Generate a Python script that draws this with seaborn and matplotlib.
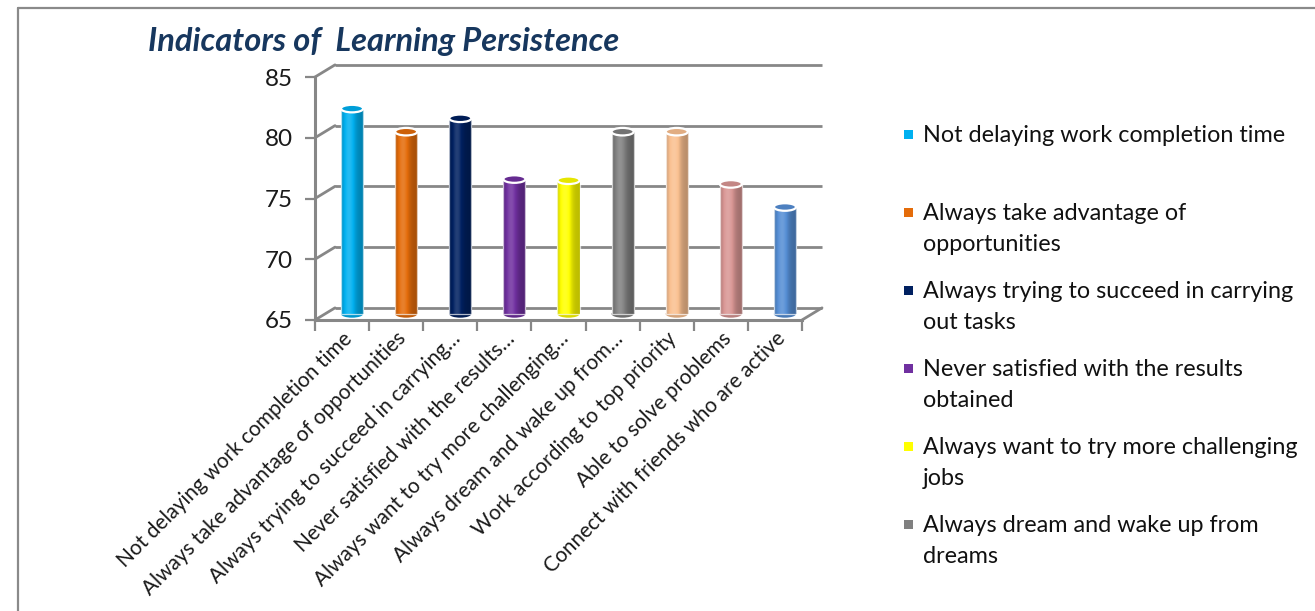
import numpy as np
import pandas as pd
import matplotlib
matplotlib.use("Agg")
import matplotlib.pyplot as plt
import seaborn as sns
from matplotlib.patches import Ellipse, Rectangle
from matplotlib.lines import Line2D
import matplotlib.colors as mcolors

# ---------------- data ----------------
categories = [
    "Not delaying work completion time",
    "Always take advantage of opportunities",
    "Always trying to succeed in carrying out tasks",
    "Never satisfied with the results obtained",
    "Always want to try more challenging jobs",
    "Always dream and wake up from dreams",
    "Work according to top priority",
    "Able to solve problems",
    "Connect with friends who are active",
]
values = [81.9, 80.0, 81.1, 76.1, 76.0, 80.0, 80.0, 75.7, 73.8]
tick_labels = [
    "Not delaying work completion time",
    "Always take advantage of opportunities",
    "Always trying to succeed in carrying…",
    "Never satisfied with the results…",
    "Always want to try more challenging…",
    "Always dream and wake up from…",
    "Work according to top priority",
    "Able to solve problems",
    "Connect with friends who are active",
]
legend_labels = [
    "Not delaying work completion time",
    "Always take advantage of\nopportunities",
    "Always trying to succeed in carrying\nout tasks",
    "Never satisfied with the results\nobtained",
    "Always want to try more challenging\njobs",
    "Always dream and wake up from\ndreams",
]
colors = ["#00B0F0", "#E46C0A", "#002060", "#7030A0", "#FFFF00",
          "#808080", "#FAC090", "#D99694", "#558ED5"]
y_ticks = [65, 70, 75, 80, 85]
title = "Indicators of  Learning Persistence"

# ---------------- style ----------------
sns.set_theme(style="white")
plt.rcParams["font.family"] = ["Lato", "DejaVu Sans"]

W, H = 1315, 611
fig = plt.figure(figsize=(W / 100, H / 100), dpi=100)
fig.patch.set_facecolor("white")

ax = fig.add_axes([315 / W, (H - 320) / H, 487 / W, 243 / H])
ax.set_facecolor("none")

df = pd.DataFrame({"category": categories, "value": values})
sns.barplot(data=df, x="category", y="value", hue="category", palette=colors,
            legend=False, width=0.41, saturation=1, linewidth=0, ax=ax)

YMIN, YMAX = y_ticks[0], y_ticks[-1]
DX, DY = 0.37, 1.0          # depth offset of back wall (data units)
EH = 0.62                   # ellipse height of cylinder caps (data units)
GRID = "#878787"


def shade(c, k):
    c = np.array(mcolors.to_rgb(c))
    if k >= 1:
        return np.clip(c + (1 - c) * (k - 1), 0, 1)
    return c * k


# back wall grid + left wall diagonals
for v in y_ticks:
    ax.plot([-0.5 + DX, 8.5 + DX], [v + DY, v + DY], color=GRID, lw=2,
            clip_on=False, zorder=0.5, solid_capstyle="butt")
    ax.plot([-0.5, -0.5 + DX], [v, v + DY], color=GRID, lw=2,
            clip_on=False, zorder=0.5)
ax.plot([8.5, 8.5 + DX], [YMIN, YMIN + DY], color=GRID, lw=2,
        clip_on=False, zorder=0.5)

# cylinders
patches = sorted(ax.patches, key=lambda p: p.get_x())
t = np.linspace(0, 1, 80)
prof = 0.74 + 0.40 * np.exp(-((t - 0.35) / 0.28) ** 2)
for p, c in zip(patches, colors):
    h = p.get_height()
    x0 = p.get_x() + DX / 2
    w = p.get_width()
    base = YMIN + DY / 2
    top = h + DY / 2
    p.set_x(x0)
    p.set_y(base)
    p.set_height(top - base)
    p.set_facecolor("none")
    p.set_edgecolor((1, 1, 1, 0.7))
    p.set_linewidth(0.9)
    p.set_zorder(3.15)
    grad = np.array([[shade(c, k) for k in prof]])
    im = ax.imshow(grad, extent=[x0, x0 + w, base, top], aspect="auto",
                   zorder=3.1, interpolation="bilinear")
    im.set_clip_path(p)
    cx = x0 + w / 2
    ax.add_patch(Ellipse((cx, base), w, EH, facecolor=shade(c, 0.85),
                         edgecolor="none", zorder=2.9))
    ax.add_patch(Ellipse((cx, top), w, EH, facecolor=shade(c, 0.9),
                         edgecolor="white", lw=1.6, zorder=3.2))

ax.set_xlim(-0.5, 8.5)
ax.set_ylim(YMIN, YMAX)
ax.set_yticks(y_ticks)
ax.set_xticks(range(len(categories)))
ax.set_xticklabels(tick_labels, rotation=45, ha="right", rotation_mode="anchor",
                   fontsize=15, color="#1a1a1a")
ax.set_xticks(np.arange(-0.5, 9.0, 1.0), minor=True)
ax.set_xlabel("")
ax.set_ylabel("")
ax.grid(False)
for s in ["top", "right"]:
    ax.spines[s].set_visible(False)
for s in ["left", "bottom"]:
    ax.spines[s].set_color(GRID)
    ax.spines[s].set_linewidth(2.2)
ax.tick_params(axis="y", direction="out", length=7, width=1.6, color=GRID,
               labelsize=17.5, labelcolor="#1a1a1a", pad=9, left=True)
ax.tick_params(axis="x", which="major", length=0, pad=6)
ax.tick_params(axis="x", which="minor", direction="out", length=8, width=1.6,
               color=GRID, bottom=True)

# title
fig.text(148 / W, 1 - 42 / H, title, fontsize=23.5, fontweight="bold",
         style="italic", color="#17375E", va="center", ha="left")

# legend (first six entries are visible in the reference)
line_y = [135, 213, 291, 369, 447, 525]
for lab, c, yy in zip(legend_labels, colors, line_y):
    fig.add_artist(Rectangle((904 / W, 1 - (yy + 4) / H), 9 / W, 9 / H,
                             transform=fig.transFigure, facecolor=c,
                             edgecolor="none"))
    fig.text(923 / W, 1 - (yy - 10) / H, lab, fontsize=16.8, color="#111111",
             va="top", ha="left", linespacing=1.6)

# chart-area border
fig.add_artist(Line2D([18 / W, 1], [1 - 8 / H, 1 - 8 / H],
                      transform=fig.transFigure, color="#8a8a8a", lw=1.6))
fig.add_artist(Line2D([18 / W, 18 / W], [1 - 8 / H, 0],
                      transform=fig.transFigure, color="#8a8a8a", lw=1.6))

fig.savefig("out.png", dpi=100)
